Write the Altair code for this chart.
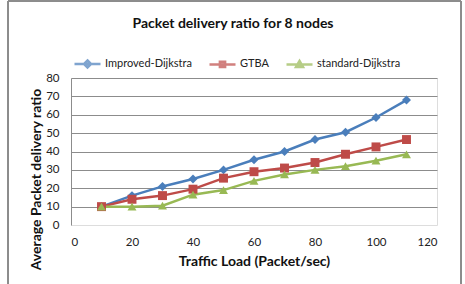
import altair as alt
import pandas as pd

# Traffic load (packets/sec) on the x axis
load = [10, 20, 30, 40, 50, 60, 70, 80, 90, 100, 110]

# Average packet delivery ratio per routing scheme
improved_dijkstra = [10, 16, 21, 25, 30, 35.5, 40, 46.5, 50.5, 58.5, 68]
gtba = [10, 14, 16, 19.5, 25.5, 29, 31, 34, 38.5, 42.5, 46.5]
standard_dijkstra = [10, 10, 10.5, 16.5, 19, 24, 27.5, 30, 32, 35, 38.5]

series = ["Improved-Dijkstra", "GTBA", "standard-Dijkstra"]
colors = ["#4A7EBB", "#BE4B48", "#98B954"]
markers = ["diamond", "square", "triangle-up"]
# legend symbols: a short line segment with the series marker on it
legend_symbols = [
    "M-1,0H1M0,-0.27L0.27,0L0,0.27L-0.27,0Z",
    "M-1,0H1M-0.2,-0.2H0.2V0.2H-0.2Z",
    "M-1,0H1M0,-0.27L0.27,0.2L-0.27,0.2Z",
]

rows = []
for name, values in zip(series, [improved_dijkstra, gtba, standard_dijkstra]):
    for x, y in zip(load, values):
        rows.append({"load": x, "ratio": y, "series": name})
df = pd.DataFrame(rows)

FONT = "Lato"
GRID = "#8C8C8C"

x_enc = alt.X(
    "load:Q",
    scale=alt.Scale(domain=[0, 120], nice=False),
    axis=alt.Axis(
        values=[0, 20, 40, 60, 80, 100, 120],
        title="Traffic Load (Packet/sec)",
        grid=False, domain=False, ticks=False,
        labelPadding=11, labelFont=FONT, labelFontSize=11.5, labelColor="#222",
        titleFont=FONT, titleFontSize=14, titleFontWeight="bold",
        titleColor="#111", titlePadding=7,
    ),
)
y_enc = alt.Y(
    "ratio:Q",
    scale=alt.Scale(domain=[0, 80], nice=False),
    axis=alt.Axis(
        values=[0, 10, 20, 30, 40, 50, 60, 70, 80],
        title="Average Packet delivery ratio",
        grid=True, gridColor=GRID,
        gridOpacity={"condition": {"test": "datum.value === 0", "value": 0}, "value": 1},
        domain=True, domainColor=GRID, ticks=False,
        labelPadding=12, labelFont=FONT, labelFontSize=11.5, labelColor="#222",
        titleFont=FONT, titleFontSize=14, titleFontWeight="bold", titleColor="#111",
        titleAngle=270, titleX=-35, titleY=101, titleAlign="center", titleBaseline="middle",
    ),
)

color_scale = alt.Scale(domain=series, range=colors)
base = alt.Chart(df)

# outer chart border
frame = base.mark_rect(fill=None, stroke="#8C8C8C", strokeWidth=1, clip=False).encode(
    x=alt.value(-63), x2=alt.value(390), y=alt.value(-77), y2=alt.value(260)
)

lines = base.mark_line(strokeWidth=2.5).encode(
    x=x_enc, y=y_enc,
    color=alt.Color("series:N", scale=color_scale, legend=None),
    detail="series:N",
)

points = base.mark_point(filled=True, size=80, opacity=1).encode(
    x=x_enc, y=y_enc,
    color=alt.Color("series:N", scale=color_scale, legend=None),
    shape=alt.Shape("series:N", scale=alt.Scale(domain=series, range=markers), legend=None),
)

legend_def = alt.Legend(
    title=None, orient="none", direction="horizontal",
    legendX=2, legendY=-29, padding=0,
    symbolSize=676, symbolStrokeWidth=2.5, labelOffset=3, columnPadding=12,
    labelFont=FONT, labelFontSize=11, labelColor="#222",
)

legend_layer = base.transform_filter("false").mark_point().encode(
    x=x_enc, y=y_enc,
    shape=alt.Shape("series:N", scale=alt.Scale(domain=series, range=legend_symbols), legend=legend_def),
    fill=alt.Fill("series:N", scale=alt.Scale(domain=series, range=colors), legend=legend_def),
    stroke=alt.Stroke("series:N", scale=alt.Scale(domain=series, range=colors), legend=legend_def),
)

chart = (
    alt.layer(frame, lines, points, legend_layer)
    .resolve_scale(shape="independent", fill="independent", stroke="independent")
    .properties(
        width=366, height=147,
        padding={"left": 71, "top": 78, "right": 28, "bottom": 59},
        autosize="none",
        title=alt.TitleParams(
            "Packet delivery ratio for 8 nodes",
            font=FONT, fontSize=14, fontWeight="bold", color="#111",
            anchor="middle", frame="group", dx=-21, offset=-30,
        ),
    )
    .configure_view(stroke=None)
    .configure(background="white")
)

chart.save("out.html", embed_options={"renderer": "svg", "actions": False})
